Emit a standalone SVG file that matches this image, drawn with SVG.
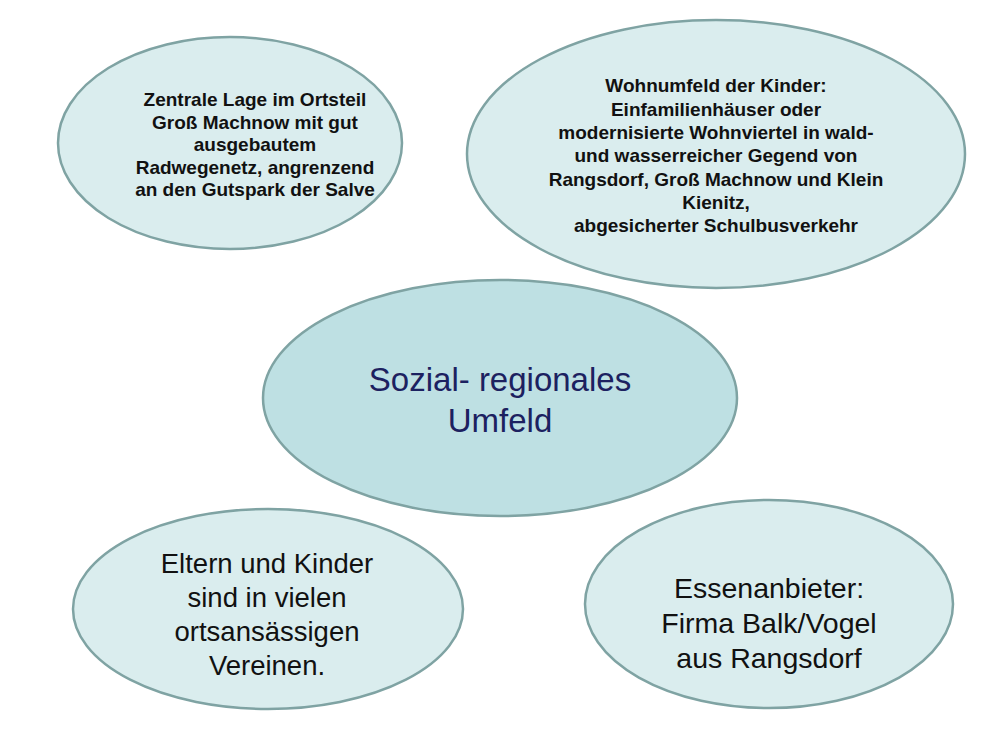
<svg xmlns="http://www.w3.org/2000/svg" width="1000" height="750" viewBox="0 0 1000 750">
<style>
.node{fill:#daedee;stroke:#7fa3a3;stroke-width:2.5}
.center{fill:#bee0e3;stroke:#7fa3a3;stroke-width:2.5}
.small{font-family:"Liberation Sans",Arial,sans-serif;font-weight:bold;font-size:19px;fill:#111;text-anchor:middle}
.big{font-family:"Liberation Sans",Arial,sans-serif;font-size:27.5px;fill:#111;text-anchor:middle}
.big2{font-family:"Liberation Sans",Arial,sans-serif;font-size:28.5px;fill:#111;text-anchor:middle}
.title{font-family:"Liberation Sans",Arial,sans-serif;font-size:33px;fill:#1c2160;text-anchor:middle}
</style>
<rect width="1000" height="750" fill="#ffffff"/>
<g id="connectors"/>
<g id="node-lage">
<ellipse class="node" cx="230" cy="143" rx="172" ry="106"/>
<text class="small"><tspan x="255" y="106">Zentrale Lage im Ortsteil</tspan><tspan x="255" y="128.5">Groß Machnow mit gut</tspan><tspan x="255" y="151">ausgebautem</tspan><tspan x="255" y="173.5">Radwegenetz, angrenzend</tspan><tspan x="255" y="196">an den Gutspark der Salve</tspan></text>
</g>
<g id="node-wohnumfeld">
<ellipse class="node" cx="716" cy="154" rx="249" ry="134"/>
<text class="small"><tspan x="716" y="92">Wohnumfeld der Kinder:</tspan><tspan x="716" y="115.5">Einfamilienhäuser oder</tspan><tspan x="716" y="139">modernisierte Wohnviertel in wald-</tspan><tspan x="716" y="162">und wasserreicher Gegend von</tspan><tspan x="716" y="185.5">Rangsdorf, Groß Machnow und Klein</tspan><tspan x="716" y="209">Kienitz,</tspan><tspan x="716" y="232">abgesicherter Schulbusverkehr</tspan></text>
</g>
<g id="node-center">
<ellipse class="center" cx="500" cy="398" rx="237" ry="118"/>
<text class="title"><tspan x="500" y="391">Sozial- regionales</tspan><tspan x="500" y="432">Umfeld</tspan></text>
</g>
<g id="node-vereine">
<ellipse class="node" cx="268" cy="609" rx="195" ry="100"/>
<text class="big"><tspan x="267" y="573">Eltern und Kinder</tspan><tspan x="267" y="607">sind in vielen</tspan><tspan x="267" y="641">ortsansässigen</tspan><tspan x="267" y="675">Vereinen.</tspan></text>
</g>
<g id="node-essen">
<ellipse class="node" cx="769" cy="604" rx="184" ry="104"/>
<text class="big2"><tspan x="769" y="598">Essenanbieter:</tspan><tspan x="769" y="633">Firma Balk/Vogel</tspan><tspan x="769" y="668">aus Rangsdorf</tspan></text>
</g>
</svg>
